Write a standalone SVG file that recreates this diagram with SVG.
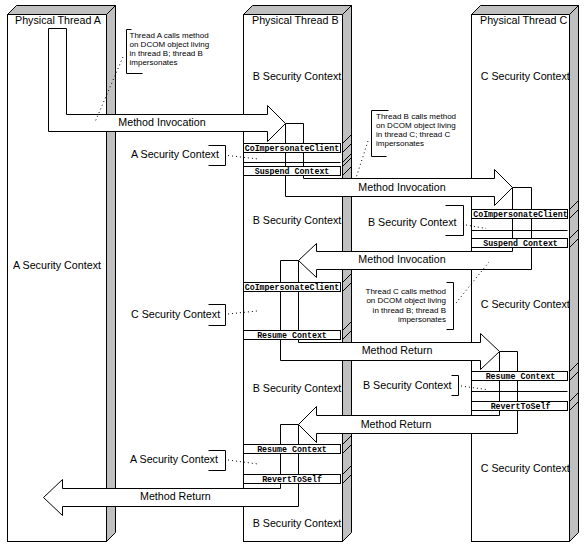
<svg xmlns="http://www.w3.org/2000/svg" width="587" height="552" viewBox="0 0 587 552">
<style>
.face{fill:#fff;stroke:#000;stroke-width:1}
.gray{fill:#c0c0c0;stroke:#000;stroke-width:1}
.arrow{fill:#fff;stroke:#000;stroke-width:1}
.band{fill:#fff;stroke:#000;stroke-width:1}
.ln{fill:none;stroke:#000;stroke-width:1}
.dot{fill:none;stroke:#000;stroke-width:1;stroke-dasharray:1 3}
.t{font-family:"Liberation Sans",Arial,sans-serif;font-size:10.7px;fill:#000}
.m{font-family:"Liberation Mono","Courier New",monospace;font-size:8.3px;font-weight:bold;text-anchor:middle;fill:#000}
.n{font-family:"Liberation Sans",Arial,sans-serif;font-size:8px;fill:#000}
</style>
<rect width="587" height="552" fill="#fff"/>

<g id="threadA">
<rect class="face" x="7.5" y="14.5" width="99" height="527"/>
<polygon class="gray" points="7.5,14.5 16.5,5.5 115.5,5.5 106.5,14.5"/>
<polygon class="gray" points="106.5,14.5 115.5,5.5 115.5,532.5 106.5,541.5"/>
<text class="t" x="15" y="24">Physical Thread A</text>
<text class="t" x="57" y="269" text-anchor="middle">A Security Context</text>
</g>

<g id="threadB">
<rect class="face" x="243.5" y="14.5" width="99" height="527"/>
<polygon class="gray" points="243.5,14.5 252.5,5.5 351.5,5.5 342.5,14.5"/>
<polygon class="gray" points="342.5,14.5 351.5,5.5 351.5,532.5 342.5,541.5"/>
<text class="t" x="252" y="24">Physical Thread B</text>
<text class="t" x="252.7" y="80">B Security Context</text>
<text class="t" x="252.7" y="224">B Security Context</text>
<text class="t" x="252.7" y="392.3">B Security Context</text>
<text class="t" x="252.7" y="527.3">B Security Context</text>
</g>

<g id="threadC">
<rect class="face" x="471.5" y="14.5" width="98" height="527"/>
<polygon class="gray" points="471.5,14.5 480.5,5.5 578.5,5.5 569.5,14.5"/>
<polygon class="gray" points="569.5,14.5 578.5,5.5 578.5,532.5 569.5,541.5"/>
<text class="t" x="480" y="24">Physical Thread C</text>
<text class="t" x="480.7" y="80">C Security Context</text>
<text class="t" x="480.7" y="308.3">C Security Context</text>
<text class="t" x="480.7" y="472">C Security Context</text>
</g>

<g id="connectors">
<polygon class="arrow" points="48.5,28.5 66.5,28.5 66.5,114.5 267.5,114.5 267.5,105.5 285.5,123.5 267.5,141.5 267.5,131.5 48.5,131.5"/>
<text class="t" x="118.3" y="126.3">Method Invocation</text>
<polygon class="arrow" points="285.5,123.5 303.5,123.5 303.5,178.5 494.5,178.5 494.5,169.5 512.5,187.5 494.5,205.5 494.5,196.5 285.5,196.5"/>
<text class="t" x="358.3" y="190.7">Method Invocation</text>
<polygon class="arrow" points="512.5,187.5 531.5,187.5 531.5,269.5 316.5,269.5 316.5,277.5 298.5,260.5 316.5,243.5 316.5,251.5 512.5,251.5"/>
<text class="t" x="358.3" y="263">Method Invocation</text>
<polygon class="arrow" points="280.5,260.5 298.5,260.5 298.5,342.5 480.5,342.5 480.5,333.5 499.5,351.5 480.5,369.5 480.5,360.5 280.5,360.5"/>
<text class="t" x="361.7" y="354.3">Method Return</text>
<polygon class="arrow" points="499.5,351.5 517.5,351.5 517.5,433.5 316.5,433.5 316.5,442.5 298.5,424.5 316.5,406.5 316.5,415.5 499.5,415.5"/>
<text class="t" x="360.7" y="428.3">Method Return</text>
<polygon class="arrow" points="280.5,424.5 298.5,424.5 298.5,506.5 62.5,506.5 62.5,515.5 43.5,497.5 62.5,479.5 62.5,488.5 280.5,488.5"/>
<text class="t" x="140" y="500">Method Return</text>
</g>

<g id="bandsB">
<rect class="band" x="243.5" y="143.5" width="97" height="9"/>
<text class="m" x="292" y="150.8">CoImpersonateClient</text>
<line class="ln" x1="243.5" y1="162.5" x2="340.5" y2="162.5"/>
<rect class="band" x="243.5" y="166.5" width="97" height="9"/>
<text class="m" x="292" y="173.8">Suspend Context</text>
<rect class="band" x="243.5" y="282.5" width="97" height="9"/>
<text class="m" x="292" y="289.8">CoImpersonateClient</text>
<rect class="band" x="243.5" y="330.5" width="97" height="9"/>
<text class="m" x="292" y="337.8">Resume Context</text>
<rect class="band" x="243.5" y="444.5" width="97" height="9"/>
<text class="m" x="292" y="451.8">Resume Context</text>
<rect class="band" x="243.5" y="474.5" width="97" height="9"/>
<text class="m" x="292" y="481.8">RevertToSelf</text>
<path class="ln" d="M342.5,143.5l9,-9M342.5,152.5l9,-9M342.5,162.5l9,-9M342.5,166.5l9,-9M342.5,175.5l9,-9M342.5,282.5l9,-9M342.5,291.5l9,-9M342.5,330.5l9,-9M342.5,339.5l9,-9M342.5,444.5l9,-9M342.5,453.5l9,-9M342.5,474.5l9,-9M342.5,483.5l9,-9"/>
</g>

<g id="bandsC">
<rect class="band" x="471.5" y="209.5" width="96" height="9"/>
<text class="m" x="520.5" y="216.8">CoImpersonateClient</text>
<line class="ln" x1="471.5" y1="230.5" x2="567.5" y2="230.5"/>
<rect class="band" x="471.5" y="238.5" width="96" height="9"/>
<text class="m" x="520.5" y="245.8">Suspend Context</text>
<rect class="band" x="471.5" y="371.5" width="96" height="9"/>
<text class="m" x="520.5" y="378.8">Resume Context</text>
<line class="ln" x1="471.5" y1="391.5" x2="567.5" y2="391.5"/>
<rect class="band" x="471.5" y="401.5" width="96" height="9"/>
<text class="m" x="520.5" y="408.8">RevertToSelf</text>
<path class="ln" d="M569.5,209.5l9,-9M569.5,218.5l9,-9M569.5,238.5l9,-9M569.5,247.5l9,-9M569.5,371.5l9,-9M569.5,380.5l9,-9M569.5,401.5l9,-9M569.5,410.5l9,-9"/>
</g>

<g id="label-A1">
<text class="t" x="131" y="158">A Security Context</text>
<path class="ln" d="M208.5,145.5H225.5V165.5H208.5"/>
<path class="dot" d="M228,155.5L258,159"/>
</g>
<g id="label-C1">
<text class="t" x="131" y="318">C Security Context</text>
<path class="ln" d="M208.5,304.5H225.5V325.5H208.5"/>
<path class="dot" d="M228,314L257,311"/>
</g>
<g id="label-A2">
<text class="t" x="130" y="462.7">A Security Context</text>
<path class="ln" d="M208.5,450.5H225.5V470.5H208.5"/>
<path class="dot" d="M228,460L258,464"/>
</g>
<g id="label-B1">
<text class="t" x="368" y="226">B Security Context</text>
<path class="ln" d="M445.5,205.5H463.5V235.5H445.5"/>
<path class="dot" d="M466,225L486,228.5"/>
</g>
<g id="label-B2">
<text class="t" x="363" y="389">B Security Context</text>
<path class="ln" d="M451.5,375.5H458.5V395.5H451.5"/>
<path class="dot" d="M461,386L486,389.5"/>
</g>

<g id="note1">
<path class="ln" d="M131.5,29.5H126.5V73.5H142.5"/>
<text class="n" x="129.5" y="37.5">Thread A calls method</text>
<text class="n" x="129.5" y="46.5">on DCOM object living</text>
<text class="n" x="129.5" y="55.5">in thread B; thread B</text>
<text class="n" x="129.5" y="64.5">impersonates</text>
<path class="dot" d="M123,57L95,122"/>
</g>
<g id="note2">
<path class="ln" d="M388.5,110.5H371.5V156.5H386.5"/>
<text class="n" x="376" y="119">Thread B calls method</text>
<text class="n" x="376" y="128">on DCOM object living</text>
<text class="n" x="376" y="137">in thread C; thread C</text>
<text class="n" x="376" y="146">impersonates</text>
<path class="dot" d="M368,141L356,178"/>
</g>
<g id="note3">
<path class="ln" d="M446.5,282.5H453.5V329.5H446.5"/>
<text class="n" x="446" y="293.5" text-anchor="end">Thread C calls method</text>
<text class="n" x="446" y="303" text-anchor="end">on DCOM object living</text>
<text class="n" x="446" y="312.5" text-anchor="end">in thread B; thread B</text>
<text class="n" x="446" y="321.5" text-anchor="end">impersonates</text>
<path class="dot" d="M456,303L489,262"/>
</g>
</svg>
